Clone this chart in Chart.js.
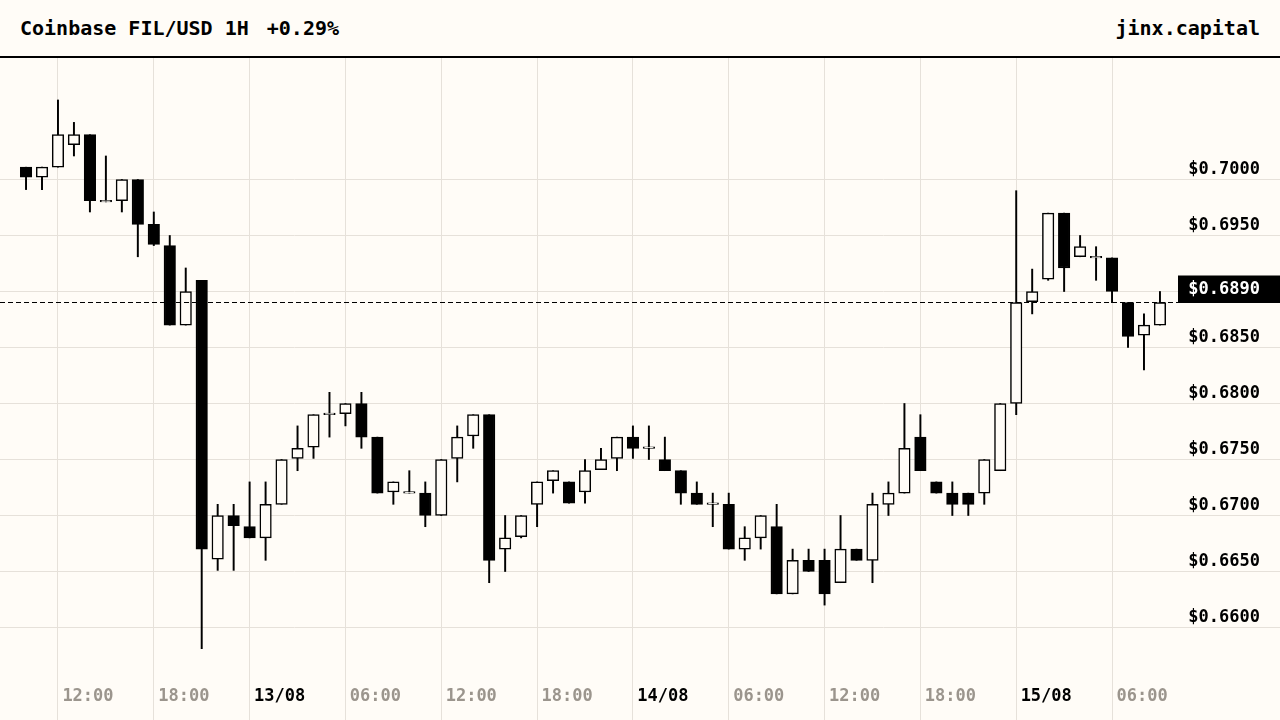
<!DOCTYPE html>
<html><head><meta charset="utf-8">
<script src="https://cdn.jsdelivr.net/npm/chart.js@4.4.1/dist/chart.umd.min.js"></script>
<style>
html,body{margin:0;padding:0;background:#fffcf7;width:1280px;height:720px;overflow:hidden;}
#hdr{height:56px;border-bottom:2px solid #000;position:relative;font:bold 20px 'DejaVu Sans Mono',monospace;color:#000;line-height:56px;}
#ttl{position:absolute;left:20px;top:0;white-space:pre;}
#chg{margin-left:18px;}
#brand{position:absolute;right:20px;top:0;}
#wrap{position:relative;width:1280px;height:662px;}
</style></head><body>
<div id="hdr"><span id="ttl">Coinbase FIL/USD 1H<span id="chg">+0.29%</span></span><span id="brand">jinx.capital</span></div>
<div id="wrap"><canvas id="c"></canvas></div>
<script>
const times = [
"12/08 10:00","12/08 11:00","12/08 12:00","12/08 13:00","12/08 14:00","12/08 15:00","12/08 16:00","12/08 17:00",
"12/08 18:00","12/08 19:00","12/08 20:00","12/08 21:00","12/08 22:00","12/08 23:00",
"13/08 00:00","13/08 01:00","13/08 02:00","13/08 03:00","13/08 04:00","13/08 05:00","13/08 06:00","13/08 07:00",
"13/08 08:00","13/08 09:00","13/08 10:00","13/08 11:00","13/08 12:00","13/08 13:00","13/08 14:00","13/08 15:00",
"13/08 16:00","13/08 17:00","13/08 18:00","13/08 19:00","13/08 20:00","13/08 21:00","13/08 22:00","13/08 23:00",
"14/08 00:00","14/08 01:00","14/08 02:00","14/08 03:00","14/08 04:00","14/08 05:00","14/08 06:00","14/08 07:00",
"14/08 08:00","14/08 09:00","14/08 10:00","14/08 11:00","14/08 12:00","14/08 13:00","14/08 14:00","14/08 15:00",
"14/08 16:00","14/08 17:00","14/08 18:00","14/08 19:00","14/08 20:00","14/08 21:00","14/08 22:00","14/08 23:00",
"15/08 00:00","15/08 01:00","15/08 02:00","15/08 03:00","15/08 04:00","15/08 05:00","15/08 06:00","15/08 07:00",
"15/08 08:00","15/08 09:00"];

const open = [
0.7011,0.7002,0.7011,0.7031,0.7040,0.6980,0.6981,0.7000,0.6960,0.6941,0.6870,0.6910,
0.6661,0.6700,0.6690,0.6680,0.6710,0.6751,0.6761,0.6790,0.6791,0.6800,0.6770,0.6721,
0.6720,0.6720,0.6700,0.6751,0.6771,0.6790,0.6670,0.6681,0.6710,0.6731,0.6730,0.6721,
0.6741,0.6751,0.6770,0.6760,0.6750,0.6740,0.6720,0.6710,0.6710,0.6670,0.6680,0.6690,
0.6630,0.6660,0.6660,0.6640,0.6670,0.6660,0.6710,0.6720,0.6770,0.6730,0.6720,0.6720,
0.6720,0.6740,0.6800,0.6891,0.6911,0.6970,0.6931,0.6930,0.6930,0.6890,0.6861,0.6870];
const high = [
0.7011,0.7011,0.7071,0.7051,0.7040,0.7021,0.7000,0.7000,0.6971,0.6950,0.6921,0.6910,
0.6710,0.6710,0.6730,0.6730,0.6750,0.6780,0.6790,0.6810,0.6800,0.6810,0.6770,0.6730,
0.6740,0.6730,0.6750,0.6780,0.6790,0.6790,0.6700,0.6700,0.6730,0.6740,0.6730,0.6750,
0.6760,0.6770,0.6780,0.6780,0.6770,0.6740,0.6730,0.6720,0.6720,0.6690,0.6700,0.6710,
0.6670,0.6670,0.6670,0.6700,0.6670,0.6720,0.6730,0.6800,0.6790,0.6730,0.6730,0.6720,
0.6750,0.6800,0.6990,0.6920,0.6970,0.6970,0.6950,0.6940,0.6930,0.6890,0.6880,0.6900];
const low = [
0.6991,0.6991,0.7011,0.7021,0.6971,0.6980,0.6971,0.6931,0.6941,0.6870,0.6870,0.6581,
0.6651,0.6651,0.6680,0.6660,0.6710,0.6740,0.6751,0.6770,0.6780,0.6760,0.6720,0.6710,
0.6720,0.6690,0.6700,0.6730,0.6760,0.6640,0.6650,0.6680,0.6690,0.6720,0.6711,0.6711,
0.6741,0.6740,0.6751,0.6750,0.6740,0.6710,0.6710,0.6690,0.6670,0.6660,0.6670,0.6630,
0.6630,0.6650,0.6620,0.6640,0.6660,0.6640,0.6700,0.6720,0.6740,0.6720,0.6700,0.6700,
0.6710,0.6740,0.6790,0.6880,0.6910,0.6900,0.6931,0.6910,0.6890,0.6850,0.6830,0.6870];
const close = [
0.7002,0.7011,0.7040,0.7040,0.6981,0.6980,0.7000,0.6960,0.6942,0.6870,0.6900,0.6670,
0.6700,0.6691,0.6680,0.6710,0.6750,0.6760,0.6790,0.6790,0.6800,0.6770,0.6720,0.6730,
0.6720,0.6700,0.6750,0.6770,0.6790,0.6660,0.6680,0.6700,0.6730,0.6740,0.6711,0.6740,
0.6750,0.6770,0.6760,0.6760,0.6740,0.6720,0.6710,0.6710,0.6670,0.6680,0.6700,0.6630,
0.6660,0.6650,0.6630,0.6670,0.6660,0.6710,0.6720,0.6760,0.6740,0.6720,0.6710,0.6710,
0.6750,0.6800,0.6890,0.6900,0.6970,0.6921,0.6940,0.6930,0.6900,0.6860,0.6870,0.6890];

const yTickValues = [0.6600,0.6650,0.6700,0.6750,0.6800,0.6850,0.6900,0.6950,0.7000];

const BG = '#fffcf7', GRID = '#e6e1da', GRAY = '#9b958d', INK = '#000';
const FONT = "'DejaVu Sans Mono', monospace";
const lastClose = close[close.length - 1];

const hourOf = s => parseInt(s.slice(6, 8), 10);
const tickIdx = times.map((t, i) => i).filter(i => hourOf(times[i]) % 6 === 0);
const tickLabel = i => hourOf(times[i]) === 0 ? times[i].slice(0, 5) : times[i].slice(6);

const bodyData = open.map((o, i) => ({x: i, y: [o, close[i]]}));
const wickData = low.map((l, i) => ({x: i, y: [l, high[i]]}));

const pricePlugin = {
  id: 'lastPrice',
  afterDatasetsDraw(chart) {
    const {ctx, chartArea: a, scales: {y}} = chart;
    const py = Math.round(y.getPixelForValue(lastClose)) - 0.5;
    ctx.save();
    ctx.strokeStyle = INK; ctx.lineWidth = 1; ctx.setLineDash([5, 3]);
    ctx.beginPath(); ctx.moveTo(a.left, py); ctx.lineTo(a.right, py); ctx.stroke();
    ctx.setLineDash([]);
    ctx.fillStyle = INK;
    ctx.fillRect(a.right, py - 27, chart.width - a.right, 27.5);
    ctx.fillStyle = '#fff';
    ctx.font = "bold 17px " + FONT;
    ctx.textAlign = 'right'; ctx.textBaseline = 'middle';
    ctx.fillText('$' + lastClose.toFixed(4), chart.width - 20, py - 12.5);
    ctx.restore();
  }
};

new Chart(document.getElementById('c'), {
  type: 'bar',
  data: {
    datasets: [
      {label: 'wick', data: wickData, backgroundColor: INK, borderWidth: 0,
       barThickness: 1.3, grouped: false, order: 2},
      {label: 'body', data: bodyData,
       backgroundColor: c => close[c.dataIndex] < open[c.dataIndex] ? INK : BG,
       borderColor: INK, borderWidth: 1.5, borderSkipped: false,
       barThickness: 11.5, minBarLength: 1.5, grouped: false, order: 1}
    ]
  },
  options: {
    responsive: true, maintainAspectRatio: false, animation: false, devicePixelRatio: 1,
    layout: {padding: 0},
    plugins: {legend: {display: false}, tooltip: {enabled: false}},
    scales: {
      x: {
        type: 'linear', min: -1.63, max: 72.13, offset: false,
        afterBuildTicks: ax => { ax.ticks = tickIdx.map(v => ({value: v})); },
        afterFit: ax => { ax.height = 58; ax.paddingLeft = 0; ax.paddingRight = 0; },
        grid: {color: GRID, lineWidth: 1, tickLength: 58, drawTicks: true, offset: false},
        border: {display: false},
        ticks: {
          callback: v => tickLabel(v),
          color: c => hourOf(times[c.tick.value]) === 0 ? INK : GRAY,
          font: {family: FONT, weight: 'bold', size: 17},
          maxRotation: 0, autoSkip: false, labelOffset: 30, padding: -34
        }
      },
      y: {
        position: 'right', min: 0.656920, max: 0.710848,
        afterBuildTicks: ax => { ax.ticks = yTickValues.map(v => ({value: v})); },
        afterFit: ax => { ax.width = 102; ax.paddingTop = 0; ax.paddingBottom = 0; },
        grid: {color: GRID, lineWidth: 1, tickLength: 102, drawTicks: true, offset: false},
        border: {display: false},
        ticks: {
          mirror: true, padding: 82, labelOffset: -10,
          callback: v => '$' + v.toFixed(4),
          color: c => Math.abs(c.tick.value - lastClose) < 0.002 ? 'rgba(0,0,0,0)' : INK,
          font: {family: FONT, weight: 'bold', size: 17}
        }
      }
    }
  },
  plugins: [pricePlugin]
});
</script>
</body></html>
